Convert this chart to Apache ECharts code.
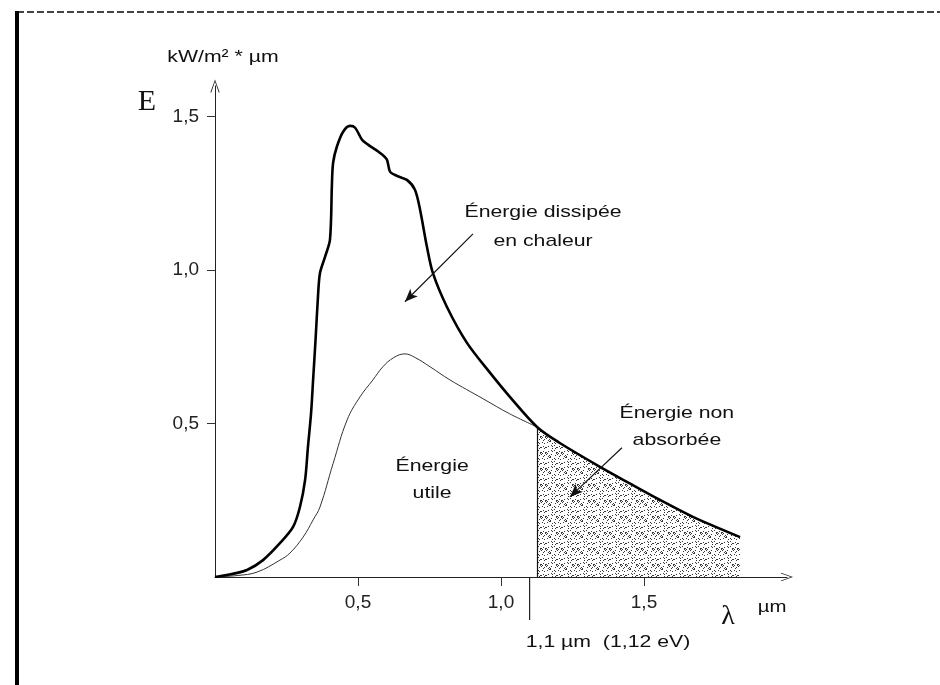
<!DOCTYPE html>
<html>
<head>
<meta charset="utf-8">
<script src="https://cdn.jsdelivr.net/npm/echarts@6/dist/echarts.min.js"></script>
<style>
    html, body { margin: 0; background: #fff; }
    #chart { width: 940px; height: 685px; }
</style>
</head>
<body>
<div id="chart"></div>
<script>
// spectre solaire (courbe épaisse), E en kW/m² * µm
var sunX = [0, 0.05, 0.112, 0.168, 0.227, 0.273, 0.297, 0.315, 0.325, 0.336, 0.343, 0.352, 0.36, 0.367,
    0.385, 0.402, 0.409, 0.413, 0.426, 0.448, 0.472, 0.49, 0.514, 0.535, 0.577, 0.601, 0.612, 0.636,
    0.671, 0.699, 0.717, 0.741, 0.762, 0.811, 0.881, 0.962, 1.031, 1.126, 1.2, 1.346, 1.45, 1.556,
    1.671, 1.836];
var sunE = [0, 0.008, 0.023, 0.055, 0.11, 0.163, 0.228, 0.316, 0.424, 0.535, 0.642, 0.78, 0.913, 0.99,
    1.044, 1.099, 1.285, 1.35, 1.402, 1.451, 1.47, 1.464, 1.425, 1.409, 1.382, 1.36, 1.321, 1.307,
    1.294, 1.262, 1.197, 1.076, 0.99, 0.88, 0.763, 0.665, 0.587, 0.489, 0.44, 0.359, 0.305, 0.251,
    0.196, 0.13];

// énergie utile (courbe fine)
var usefulX = [0, 0.08, 0.147, 0.227, 0.262, 0.308, 0.343, 0.367, 0.413, 0.462, 0.507, 0.552, 0.587,
    0.625, 0.664, 0.7, 0.752, 0.822, 0.937, 1.03, 1.126];
var usefulE = [0, 0.005, 0.016, 0.055, 0.078, 0.13, 0.186, 0.228, 0.37, 0.512, 0.587, 0.642, 0.685,
    0.715, 0.727, 0.715, 0.685, 0.642, 0.581, 0.532, 0.489];

var gapX = 1.126;      // début de la zone non absorbée
var gapTick = 1.1;     // repère 1,1 µm
var xTicks = [0.5, 1.0, 1.5];
var yTicks = [0.5, 1.0, 1.5];

// flèches des annotations [départ, pointe]
var arrowHeat = [[0.902, 1.118], [0.664, 0.897]];
var arrowLost = [[1.423, 0.421], [1.241, 0.261]];

function zip(xs, ys) {
    return xs.map(function (x, i) { return [x, ys[i]]; });
}

var sunData = zip(sunX, sunE);
var usefulData = zip(usefulX, usefulE);
var lostData = sunData.filter(function (p) { return p[0] >= gapX; });
var gapTop = sunE[sunX.indexOf(gapX)];

// trame pointillée de la zone non absorbée
var pat = document.createElement('canvas');
pat.width = 16;
pat.height = 16;
var ctx = pat.getContext('2d');
ctx.fillStyle = '#fff';
ctx.fillRect(0, 0, 16, 16);
ctx.fillStyle = '#3a3a3a';
for (var i = 0; i < 16; i++) {
    for (var j = 0; j < 16; j++) {
        if ((i * 73 + j * 151 + i * j * 37) % 11 < 2) ctx.fillRect(i, j, 1, 1);
    }
}

var chevron = 'path://M5,0 L10,14 L9,14 L5,2.5 L1,14 L0,14 Z';
var tickFmt = function (v) { return v.toFixed(1).replace('.', ','); };
var labelFont = { fontFamily: 'Liberation Sans', fontSize: 19, color: '#222' };

var chart = echarts.init(document.getElementById('chart'));

var option = {
    animation: false,
    grid: { left: 215, right: 153, top: 86, bottom: 108 },
    xAxis: {
        type: 'value',
        min: 0,
        max: 2.0,
        interval: 0.5,
        splitLine: { show: false },
        axisLine: {
            lineStyle: { color: '#222', width: 1 },
            symbol: ['none', chevron],
            symbolSize: [14, 12]
        },
        axisTick: { customValues: xTicks, length: 9, lineStyle: { color: '#333' } },
        axisLabel: Object.assign({ customValues: xTicks, margin: 16, formatter: tickFmt }, labelFont)
    },
    yAxis: {
        type: 'value',
        min: 0,
        max: 1.6,
        interval: 0.5,
        splitLine: { show: false },
        axisLine: {
            lineStyle: { color: '#222', width: 1 },
            symbol: ['none', chevron],
            symbolSize: [14, 13]
        },
        axisTick: { customValues: yTicks, length: 8, lineStyle: { color: '#333' } },
        axisLabel: Object.assign({ customValues: yTicks, margin: 16, formatter: tickFmt }, labelFont)
    },
    series: [
        {
            name: 'non absorbée',
            type: 'line',
            data: lostData,
            smooth: 0.3,
            symbol: 'none',
            lineStyle: { width: 0 },
            areaStyle: { color: { image: pat, repeat: 'repeat' }, opacity: 1 },
            z: 1,
            markLine: {
                silent: true,
                symbol: ['none', 'arrow'],
                symbolSize: [8, 13],
                label: { show: false },
                lineStyle: { color: '#111', width: 1.2, type: 'solid' },
                data: [
                    [{ coord: [gapX, 0], symbol: 'none' }, { coord: [gapX, gapTop], symbol: 'none' }],
                    [{ coord: arrowHeat[0] }, { coord: arrowHeat[1] }],
                    [{ coord: arrowLost[0] }, { coord: arrowLost[1] }]
                ]
            }
        },
        {
            name: 'utile',
            type: 'line',
            data: usefulData,
            smooth: 0.4,
            symbol: 'none',
            lineStyle: { color: '#333', width: 1 },
            z: 2
        },
        {
            name: 'spectre',
            type: 'line',
            data: sunData,
            smooth: 0.3,
            symbol: 'none',
            lineStyle: { color: '#000', width: 2.6 },
            z: 3
        }
    ]
};

chart.setOption(option);

// textes et repères placés en coordonnées du graphique
function px(p) {
    return chart.convertToPixel({ gridIndex: 0 }, p);
}

function label(text, at, font, sx, lh) {
    var p = px(at);
    return {
        type: 'text',
        x: p[0],
        y: p[1],
        scaleX: sx || 1,
        style: {
            text: text,
            font: font,
            fill: '#111',
            align: 'center',
            verticalAlign: 'middle',
            lineHeight: lh || 20
        },
        z: 10
    };
}

var sans = '17px "Liberation Sans"';
var tick = px([gapTick, 0]);

chart.setOption({
    graphic: [
        // bord du scan
        { type: 'line', shape: { x1: 17, y1: 12, x2: 940, y2: 12 },
          style: { stroke: '#444', lineWidth: 2, lineDash: [7, 3] } },
        { type: 'line', shape: { x1: 17, y1: 11, x2: 17, y2: 685 },
          style: { stroke: '#000', lineWidth: 4 } },
        // repère 1,1 µm sous l'axe
        { type: 'line', shape: { x1: tick[0], y1: tick[1], x2: tick[0], y2: tick[1] + 43 },
          style: { stroke: '#222', lineWidth: 1.2 } },
        label('kW/m² * µm', [0.028, 1.695], sans, 1.25),
        label('E', [-0.238, 1.549], '30px "Liberation Serif"', 1),
        label('λ', [1.794, -0.13], '28px "Liberation Serif"', 1),
        label('µm', [1.948, -0.098], sans, 1.2),
        label('1,1 µm  (1,12 eV)', [1.374, -0.212], sans, 1.25),
        label('Énergie dissipée\nen chaleur', [1.147, 1.14], sans, 1.25, 29),
        label('Énergie\nutile', [0.759, 0.316], sans, 1.25, 27),
        label('Énergie non\nabsorbée', [1.615, 0.489], sans, 1.25, 27)
    ]
});
</script>
</body>
</html>
